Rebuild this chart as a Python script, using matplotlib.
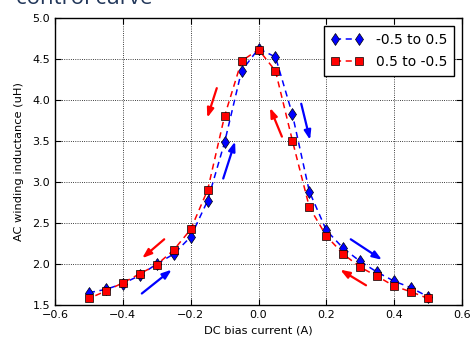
import matplotlib
matplotlib.use("Agg")
import matplotlib.pyplot as plt

# Bias current sweep points (A)
current_up = [-0.5, -0.45, -0.4, -0.35, -0.3, -0.25, -0.2, -0.15, -0.1, -0.05, 0.0,
              0.05, 0.1, 0.15, 0.2, 0.25, 0.3, 0.35, 0.4, 0.45, 0.5]
inductance_up = [1.65, 1.69, 1.76, 1.86, 2.00, 2.12, 2.33, 2.77, 3.48, 4.35, 4.62,
                 4.52, 3.82, 2.88, 2.41, 2.19, 2.03, 1.90, 1.79, 1.71, 1.60]

current_down = [0.5, 0.45, 0.4, 0.35, 0.3, 0.25, 0.2, 0.15, 0.1, 0.05, 0.0,
                -0.05, -0.1, -0.15, -0.2, -0.25, -0.3, -0.35, -0.4, -0.45, -0.5]
inductance_down = [1.58, 1.66, 1.73, 1.85, 1.96, 2.12, 2.34, 2.69, 3.50, 4.35, 4.61,
                   4.47, 3.80, 2.90, 2.42, 2.17, 1.99, 1.88, 1.77, 1.67, 1.58]

x_ticks = [-0.6, -0.4, -0.2, 0.0, 0.2, 0.4, 0.6]
y_ticks = [1.5, 2.0, 2.5, 3.0, 3.5, 4.0, 4.5, 5.0]

# Sweep direction arrows: (start, end, colour)
arrows = [
    ((-0.344, 1.64), (-0.256, 1.93), "#0000ff"),
    ((-0.278, 2.30), (-0.343, 2.07), "#ff0000"),
    ((-0.104, 3.04), (-0.069, 3.49), "#0000ff"),
    ((-0.123, 4.14), (-0.151, 3.78), "#ff0000"),
    ((0.069, 3.55), (0.034, 3.90), "#ff0000"),
    ((0.126, 3.95), (0.152, 3.51), "#0000ff"),
    ((0.272, 2.30), (0.364, 2.05), "#0000ff"),
    ((0.317, 1.74), (0.241, 1.93), "#ff0000"),
]

plt.rcParams["font.family"] = ["DejaVu Sans"]

fig = plt.figure(figsize=(4.71, 3.43), dpi=100)
ax = fig.add_axes([55 / 471, 1 - 305 / 343, 407 / 471, 287.5 / 343])

ax.plot(current_up, inductance_up, linestyle="--", dashes=(4, 3), color="#0000ff",
        lw=1.1, marker="d", markersize=6.5, markerfacecolor="#0000ff",
        markeredgecolor="black", markeredgewidth=0.5, label="-0.5 to 0.5")
ax.plot(current_down, inductance_down, linestyle="--", dashes=(4, 3), color="#ff0000",
        lw=1.1, marker="s", markersize=5.5, markerfacecolor="#ff0000",
        markeredgecolor="black", markeredgewidth=0.5, label="0.5 to -0.5")

for (x0, y0), (x1, y1), c in arrows:
    ax.annotate("", xy=(x1, y1), xytext=(x0, y0),
                arrowprops=dict(arrowstyle="-|>,head_length=0.55,head_width=0.2",
                                color=c, lw=1.6, shrinkA=0, shrinkB=0))

ax.set_xlim(-0.6, 0.6)
ax.set_ylim(1.5, 5.0)
ax.set_xticks(x_ticks)
ax.set_yticks(y_ticks)
ax.set_xticklabels([f"{v:.1f}".replace("-", "\u2212") for v in x_ticks])
ax.set_yticklabels([f"{v:.1f}" for v in y_ticks])
ax.tick_params(direction="in", top=True, right=True, labelsize=8, length=4, width=0.8)
ax.grid(True, color="black", linestyle=":", linewidth=0.6)
for s in ax.spines.values():
    s.set_linewidth(1.0)

ax.set_xlabel("DC bias current (A)", fontsize=8.2, labelpad=4)
ax.set_ylabel("AC winding inductance (uH)", fontsize=8.2, labelpad=6)

leg = ax.legend(loc="upper right", bbox_to_anchor=(0.980, 0.970), borderaxespad=0,
                fontsize=10, fancybox=False, edgecolor="black", framealpha=1,
                numpoints=2, handlelength=2.3, handletextpad=0.9,
                borderpad=0.5, labelspacing=0.55)
leg.get_frame().set_linewidth(1.0)

fig.text(16 / 471, 1 - 4 / 343, "control curve", fontsize=16, color="#22375a",
         family=["Open Sans", "DejaVu Sans"], va="baseline", ha="left")

fig.savefig("out.png", dpi=100)
